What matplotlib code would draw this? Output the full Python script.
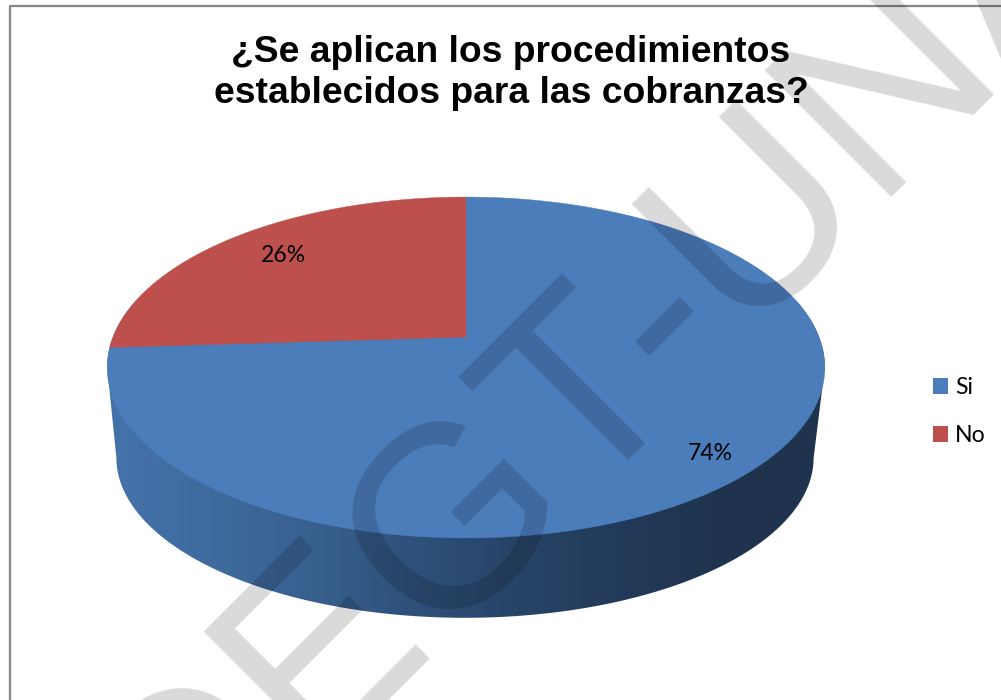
import numpy as np
import matplotlib
matplotlib.use("Agg")
import matplotlib.pyplot as plt
from matplotlib.colors import LinearSegmentedColormap
from matplotlib.patches import Patch, Polygon

# respuestas de la encuesta
categories = ["Si", "No"]
values = [74, 26]
colors = ["#4c7dbb", "#bd4f4c"]
title = "¿Se aplican los procedimientos\nestablecidos para las cobranzas?"
watermark = "DEGT-UNAN"

# vista en perspectiva del disco: tapa y base
PERSP = 0.179
TOP = dict(cx=466, cy=337, ax=353, by=165)
BASE = dict(cx=465, cy=429, ax=343, by=155)
# rampa de sombra del lateral, de izquierda a derecha
SIDE_STOPS = ["#4473ab", "#3f6b9e", "#38608f", "#2e507a", "#274467", "#223a59", "#1f334e", "#1f334e"]


def project(theta, disc):
    # theta en sentido horario desde las 12, circulo unidad -> plano de la figura
    u, v = np.sin(theta), np.cos(theta)
    w = 1 + PERSP * v
    return disc["cx"] + disc["ax"] * u / w, disc["cy"] - disc["by"] * v / w


def main():
    fig = plt.figure(figsize=(10.01, 7), dpi=100)
    ax = fig.add_axes([0, 0, 1, 1])
    ax.set_xlim(0, 1001)
    ax.set_ylim(700, 0)
    ax.axis("off")

    # marco del grafico, solo se ven los lados superior e izquierdo
    ax.plot([9.5, 9.5, 1001], [700, 6, 6], color="#878787", lw=1.6, zorder=1)

    # lateral: casco entre la base y la tapa, relleno con degradado horizontal
    t_edge = np.arccos(-PERSP)
    t_base = np.linspace(t_edge, 2 * np.pi - t_edge, 200)
    t_top = np.linspace(-t_edge, t_edge, 200)
    bx, by = project(t_base, BASE)
    tx, ty = project(t_top, TOP)
    hull = Polygon(np.column_stack([np.r_[bx, tx], np.r_[by, ty]]), closed=True,
                   facecolor="none", edgecolor="none", transform=ax.transData)
    ax.add_patch(hull)
    cmap = LinearSegmentedColormap.from_list("lateral", SIDE_STOPS)
    ramp = np.linspace(0, 1, 256).reshape(1, -1)
    im = ax.imshow(ramp, cmap=cmap, extent=(bx.min() - 10, tx.max(), 650, 300), aspect="auto", zorder=2)
    im.set_clip_path(hull)
    ax.set_xlim(0, 1001)
    ax.set_ylim(700, 0)

    # tapa: un sector por cada categoria
    fracs = np.array(values) / sum(values)
    ends = np.cumsum(fracs) * 2 * np.pi
    starts = np.r_[0, ends[:-1]]
    for start, end, color in zip(starts, ends, colors):
        t = np.linspace(start, end, 300)
        x, y = project(t, TOP)
        ax.fill(np.r_[TOP["cx"], x], np.r_[TOP["cy"], y], color=color, lw=0.3, zorder=3)

    ax.text(710, 453, "74%", ha="center", va="center", fontsize=16.6, family="Lato", zorder=6)
    ax.text(283, 255, "26%", ha="center", va="center", fontsize=16.6, family="Lato", zorder=6)

    # marca de agua en diagonal, entre el grafico y el titulo
    ax.text(178, 890, watermark, rotation=45, rotation_mode="anchor", ha="left", va="baseline",
            fontsize=187, family="Liberation Sans", color="black", alpha=0.15, zorder=4, clip_on=True)

    ax.text(511, 73, title, ha="center", va="center", fontsize=26.8, fontweight="bold",
            family="Liberation Sans", linespacing=1.23, zorder=6)

    handles = [Patch(facecolor=c, edgecolor="none") for c in colors]
    ax.legend(handles, categories, loc="upper left", bbox_to_anchor=(933, 377),
              bbox_transform=ax.transData, frameon=False, prop={"family": "Lato", "size": 16.6},
              handlelength=0.65, handleheight=0.65, handletextpad=0.3, labelspacing=1.17,
              borderpad=0, borderaxespad=0).set_zorder(6)

    plt.savefig("out.png", dpi=100)


if __name__ == "__main__":
    main()
